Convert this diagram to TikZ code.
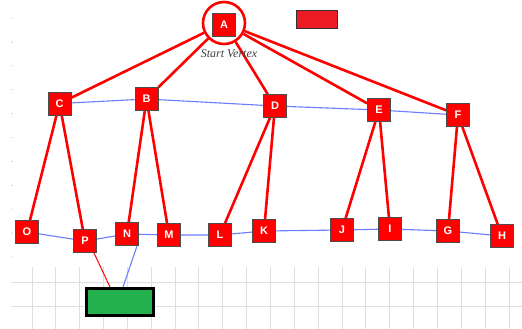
\documentclass[tikz,border=0pt]{standalone}
\usepackage{fontspec}
\setmainfont{Liberation Serif}
\setsansfont{Liberation Sans}
\usetikzlibrary{backgrounds}
\definecolor{boxred}{HTML}{ED1C24}
\definecolor{boxgreen}{HTML}{22B14C}
\definecolor{chainblue}{HTML}{6A7DFF}
\begin{document}
\begin{tikzpicture}[x=1pt,y=-1pt,
  vtx/.style={draw=black!70,line width=0.8pt,fill=red,minimum size=23pt,inner sep=0pt,
    text=white,font=\sffamily\bfseries\fontsize{11}{11}\selectfont},
  tree/.style={red,line width=2.6pt},
  chain/.style={chainblue,line width=1.1pt},
  gridline/.style={black!13,line width=1pt},
  dot/.style={fill=black!25,draw=none}]
\useasboundingbox (0,0) rectangle (522,329);
% nodes
\node[vtx] (A) at (224,25) {A};
\node[draw=red,line width=2.6pt,circle,minimum size=42pt,inner sep=0pt] (Ac) at (224,23) {};
\node[font=\itshape\fontsize{12}{12}\selectfont,text=black!75] (sv) at (229,54) {Start Vertex};
\node[draw=black!80,line width=1pt,fill=boxred,minimum width=41pt,minimum height=18pt,inner sep=0pt] (top) at (317,19.5) {};
\node[vtx] (C) at (59.5,103.5) {C};
\node[vtx] (B) at (146.5,99) {B};
\node[vtx] (D) at (275,106) {D};
\node[vtx] (E) at (379,110) {E};
\node[vtx] (F) at (458,115) {F};
\node[vtx] (O) at (27,232) {O};
\node[vtx] (P) at (85,241) {P};
\node[vtx] (N) at (127,234) {N};
\node[vtx] (M) at (169,235) {M};
\node[vtx] (L) at (220,235) {L};
\node[vtx] (K) at (264,231) {K};
\node[vtx] (J) at (342,230) {J};
\node[vtx] (I) at (390,229) {I};
\node[vtx] (G) at (448,231) {G};
\node[vtx] (H) at (502,236) {H};
\node[draw=black,line width=3pt,fill=boxgreen,minimum width=67pt,minimum height=27pt,inner sep=0pt] (goal) at (120,302) {};
\coordinate (gP) at (110,287);
\coordinate (gN) at (123,287);
\coordinate (pP) at (94,253);
\coordinate (pN) at (137,246);
\begin{scope}[on background layer]
\fill[white] (0,0) rectangle (522,329);
% grid
\foreach \k in {0,...,20} \draw[gridline] ({32+23.85*\k},267) -- ({32+23.85*\k},329);
\draw[gridline] (11,282) -- (522,282);
\draw[gridline] (11,306) -- (522,306);
\foreach \k in {0,...,10} \fill[dot] (12,{18+23.9*\k}) circle (0.7);
% edges
\foreach \t in {C,B,D,E,F} \draw[tree] (Ac) -- (\t);
\draw[tree] (C) -- (O); \draw[tree] (C) -- (P);
\draw[tree] (B) -- (N); \draw[tree] (B) -- (M);
\draw[tree] (D) -- (L); \draw[tree] (D) -- (K);
\draw[tree] (E) -- (J); \draw[tree] (E) -- (I);
\draw[tree] (F) -- (G); \draw[tree] (F) -- (H);
\draw[chain] (C) -- (B) -- (D) -- (E) -- (F);
\draw[chain] (O) -- (P) -- (N) -- (M) -- (L) -- (K) -- (J) -- (I) -- (G) -- (H);
\draw[red,line width=1pt] (pP) -- (gP);
\draw[chain] (pN) -- (gN);
\end{scope}
\end{tikzpicture}
\end{document}
